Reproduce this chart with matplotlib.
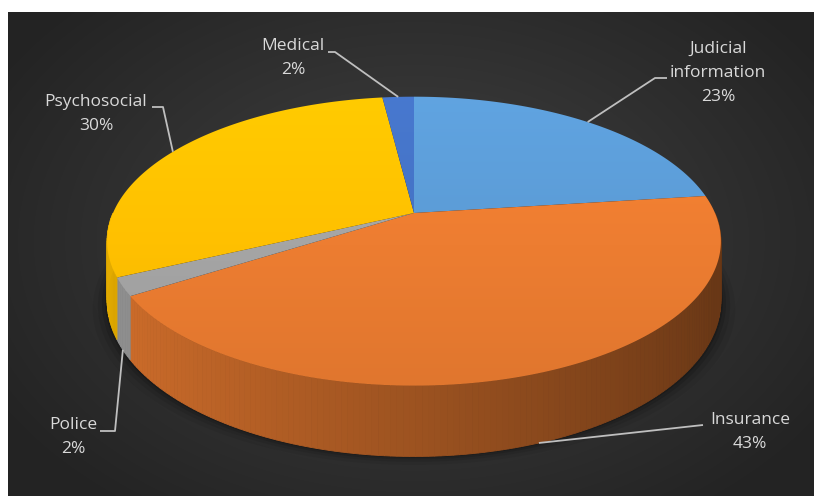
import numpy as np
import matplotlib.pyplot as plt
from matplotlib.patches import Polygon
from matplotlib.colors import to_rgb

# slices, clockwise from 12 o'clock
labels = ["Judicial\ninformation", "Insurance", "Police", "Psychosocial", "Medical"]
values = [23, 43, 2, 30, 2]
colors = ["#5b9bd5", "#ed7d31", "#a5a5a5", "#ffc000", "#4472c4"]

# label block centres and leader elbows (pixel layout)
label_pos = [(718, 73), (750, 432), (73, 437), (96, 114), (293, 58)]
elbows = [[(667, 78), (655, 78)], [(703, 425)], [(100, 431), (115, 431)],
          [(152, 107), (163, 107)], [(328, 52), (335, 52)]]

# perspective pie geometry (pixels)
CX, CY = 414, 213
A, B, K, D = 301, 139, 0.195, 57


def proj(theta, drop=0.0):
    c, s = np.cos(theta), np.sin(theta)
    w = 1 + K * s
    return CX + A * c / w, CY - B * s / w + drop / w


fig = plt.figure(figsize=(8.17, 4.96), dpi=100)
ax = fig.add_axes([0, 0, 1, 1])
ax.set_xlim(0, 817)
ax.set_ylim(496, 0)
ax.axis("off")

# dark radial background
yy, xx = np.mgrid[12:496:2, 8:814:2]
r = np.sqrt(((xx - 414) / 480.0) ** 2 + ((yy - 240) / 330.0) ** 2)
bg = np.clip(0.26 - 0.12 * r, 0.14, 0.27)
ax.imshow(np.dstack([bg, bg, bg]), extent=[8, 814, 496, 12], zorder=0,
          interpolation="bilinear")

total = float(sum(values))
edges = np.radians(90 - 360 * np.concatenate([[0], np.cumsum(values)]) / total)

# soft shadow under the pie
tt = np.linspace(0, 2 * np.pi, 300)
for grow, alpha in [(14, 0.06), (9, 0.08), (5, 0.12), (2, 0.18)]:
    px, py = proj(tt, D)
    sx = CX + (px - CX) * (1 + grow / 300.0)
    sy = py + grow * 0.6
    ax.add_patch(Polygon(np.column_stack([sx, sy]), closed=True,
                         fc="black", ec="none", alpha=alpha, zorder=1))

# sides (visible front half)
for i in range(len(values)):
    t0, t1 = edges[i], edges[i + 1]
    lo, hi = max(t1, -np.pi), min(t0, 0.0)
    if lo >= hi:
        lo, hi = max(t1 + 2 * np.pi, -np.pi), min(t0 + 2 * np.pi, 0.0)
        if lo >= hi:
            continue
    rgb = np.array(to_rgb(colors[i]))
    ts = np.linspace(hi, lo, max(3, int((hi - lo) * 60)))
    for a, b in zip(ts[:-1], ts[1:]):
        m = 0.5 * (a + b)
        f = 0.66 - 0.23 * np.cos(m)
        x1, y1 = proj(a)
        x2, y2 = proj(b)
        x3, y3 = proj(b, D)
        x4, y4 = proj(a, D)
        col = tuple(np.clip(rgb * f, 0, 1))
        ax.add_patch(Polygon([(x1, y1), (x2, y2), (x3, y3), (x4, y4)],
                             closed=True, fc=col, ec=col, lw=0.6, zorder=2))

# top faces with a gentle vertical gradient
grad_y = np.linspace(0, 1, 200)[:, None]
for i in range(len(values)):
    t0, t1 = edges[i], edges[i + 1]
    ts = np.linspace(t0, t1, max(4, int(abs(t0 - t1) * 80)))
    px, py = proj(ts)
    pts = np.vstack([[CX, CY], np.column_stack([px, py])])
    rgb = np.array(to_rgb(colors[i]))
    poly = Polygon(pts, closed=True, fc="none", ec="none", zorder=3)
    ax.add_patch(poly)
    g = (1.06 - 0.12 * grad_y)[:, :, None] * rgb[None, None, :]
    im = ax.imshow(np.clip(g, 0, 1), extent=[100, 730, 400, 90], zorder=3,
                   interpolation="bilinear", aspect="auto")
    im.set_clip_path(poly)

# labels and leader lines
ax.set_xlim(0, 817)
ax.set_ylim(496, 0)
for i in range(len(values)):
    mid = 0.5 * (edges[i] + edges[i + 1])
    drop = D if np.sin(mid) < -0.3 else 0.0
    ex, ey = proj(mid, drop)
    pts = [(ex, ey)] + elbows[i][::-1]
    ax.plot([p[0] for p in pts], [p[1] for p in pts], color="#bfbfbf",
            lw=1.3, zorder=4, solid_capstyle="butt")
    pct = "%d%%" % round(100 * values[i] / total)
    ax.text(label_pos[i][0], label_pos[i][1], labels[i] + "\n" + pct,
            ha="center", va="center", color="#d9d9d9", fontsize=12.5,
            family="Open Sans", linespacing=1.7, zorder=5)

fig.savefig("out.png", dpi=100, facecolor="white")
